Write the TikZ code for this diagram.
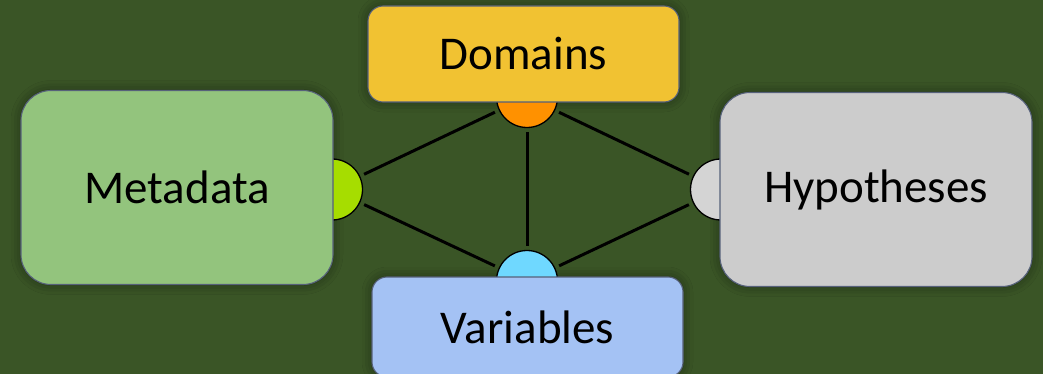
\documentclass[tikz,border=0pt]{standalone}
\usepackage{fontspec}
\setmainfont{Carlito}
\usetikzlibrary{shadows.blur}
\definecolor{bg}{HTML}{3A5526}
\definecolor{edge}{HTML}{56617A}
\definecolor{metaC}{HTML}{93C47D}
\definecolor{domC}{HTML}{F1C232}
\definecolor{hypC}{HTML}{CCCCCC}
\definecolor{varC}{HTML}{A4C2F4}
\definecolor{dotG}{HTML}{A6DD00}
\definecolor{dotO}{HTML}{FF9100}
\definecolor{dotB}{HTML}{6FD8FF}
\definecolor{dotY}{HTML}{D4D4D4}
\tikzset{
  x=1pt,y=-1pt,
  boxbase/.style={draw=edge, line width=1.1pt, inner sep=0pt, font=\fontsize{47}{50}\selectfont},
  shade/.style={fill=bg, draw=none,
    blur shadow={shadow xshift=0pt, shadow yshift=0pt, shadow blur radius=10pt, shadow opacity=45}},
  bigbox/.style={rounded corners=30pt, minimum width=312pt, minimum height=194pt},
  smallbox/.style={rounded corners=15pt, minimum width=311pt, minimum height=96pt},
  dot/.style={circle, draw=black, line width=1.3pt, minimum size=61pt, inner sep=0pt, outer sep=5pt},
  link/.style={line width=3pt, black},
}
\begin{document}
\begin{tikzpicture}
\fill[bg] (0,0) rectangle (1043,374);
\useasboundingbox (0,0) rectangle (1043,374);
% soft shadows under the boxes
\node[bigbox, shade] (metaS) at (177,187.5) {};
\node[bigbox, shade] (hypS) at (876,189.5) {};
\node[smallbox, shade] (domS) at (523.5,54) {};
\node[smallbox, shade, minimum height=100pt] (varS) at (527.5,327) {};
% connectors' end circles
\node[dot, fill=dotG] (cg) at (332,189.5) {};
\node[dot, fill=dotO] (co) at (527,97) {};
\node[dot, fill=dotB] (cb) at (527,281) {};
\node[dot, fill=dotY] (cy) at (721,189.5) {};
\draw[link] (cg) -- (co);
\draw[link] (cg) -- (cb);
\draw[link] (co) -- (cb);
\draw[link] (co) -- (cy);
\draw[link] (cb) -- (cy);
% boxes
\node[boxbase, bigbox, fill=metaC] (meta) at (177,187.5) {Metadata};
\node[boxbase, bigbox, fill=hypC] (hyp) at (876,189.5) {Hypotheses};
\node[boxbase, smallbox, fill=domC] (dom) at (523.5,54) {Domains};
\node[boxbase, smallbox, fill=varC, minimum height=100pt] (var) at (527.5,327) {Variables};
\end{tikzpicture}
\end{document}
